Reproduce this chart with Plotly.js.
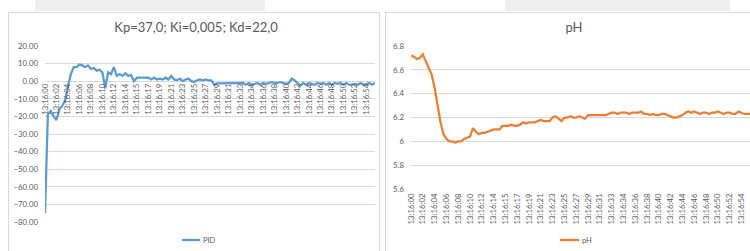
<!DOCTYPE html>
<html>
<head>
<meta charset="utf-8">
<script src="https://cdn.plot.ly/plotly-3.0.1.min.js"></script>
<style>
  html, body { margin: 0; padding: 0; background: #ffffff; }
  body { width: 750px; height: 251px; position: relative; overflow: hidden; }
  .tab { position: absolute; top: 0; height: 11px; background: #efefef; }
  .frame { position: absolute; top: 12px; height: 260px; border: 1px solid #d9d9d9; box-sizing: border-box; background: #ffffff; }
  .plot { position: absolute; top: 0; height: 251px; }
</style>
</head>
<body>
<div class="tab" style="left:35px;width:230px;"></div>
<div class="tab" style="left:505px;width:225px;"></div>
<div class="frame" style="left:8px;width:372px;"></div>
<div class="frame" style="left:385px;width:380px;"></div>
<div id="left" class="plot" style="left:0px;width:380px;"></div>
<div id="right" class="plot" style="left:380px;width:370px;"></div>
<script>
// Category tick labels (every 4th sample)
const timeLabels = ["13:16:00","13:16:02","13:16:04","13:16:06","13:16:08","13:16:10","13:16:12",
  "13:16:14","13:16:15","13:16:17","13:16:19","13:16:21","13:16:23","13:16:25","13:16:27",
  "13:16:29","13:16:31","13:16:33","13:16:34","13:16:36","13:16:38","13:16:40","13:16:42",
  "13:16:44","13:16:46","13:16:48","13:16:50","13:16:52","13:16:54"];
const labelStep = 4;

// PID output series
const pidValues = [-75,-19,-17,-20,-22,-16,-14,-11,-3,4,8,8,9.5,9,8,9,7,7.5,6,6.5,
  5,-4,5,4,8,3,4,3,4.5,3,3.5,0,2,2,2,2,2,1,2,1,
  1.5,1,2,1,3,1,0.5,1.5,0,1,1.5,0,-0.5,0.5,1,0.5,1,0.5,0.5,-2,
  -1.3,-1.3,-1.3,-1.3,-1.3,-1.3,-1.3,-1.3,-1.3,-1,-2,-1,-2,-1.5,-1,-2,-1,-1.5,-1,-0.5,
  -1,-1,-0.5,-1,-1.5,-1,1.5,0.5,-1,-2.5,-1,-2,-1,-1.5,-2,-1,-1.5,-1,-2,-1,
  -2,-1,-1.5,-1,-2,-1,-2,-2,-1.5,-2,-1,-2,-1.5,-1,-2,-1];

// pH series
const phValues = [6.72,6.71,6.69,6.70,6.73,6.67,6.61,6.56,6.45,6.30,6.16,6.06,6.02,6.00,6.00,5.99,6.00,6.00,6.02,6.03,
  6.04,6.11,6.08,6.06,6.07,6.07,6.08,6.09,6.10,6.10,6.10,6.13,6.13,6.13,6.14,6.13,6.13,6.14,6.16,6.15,
  6.16,6.16,6.16,6.17,6.18,6.17,6.17,6.17,6.20,6.21,6.19,6.17,6.20,6.20,6.21,6.20,6.20,6.21,6.20,6.19,
  6.22,6.22,6.22,6.22,6.22,6.22,6.22,6.23,6.24,6.24,6.23,6.24,6.24,6.24,6.23,6.24,6.24,6.24,6.25,6.23,
  6.23,6.22,6.23,6.22,6.22,6.23,6.23,6.22,6.21,6.20,6.20,6.21,6.22,6.24,6.25,6.24,6.25,6.24,6.23,6.24,
  6.24,6.23,6.24,6.24,6.25,6.24,6.23,6.24,6.24,6.23,6.23,6.25,6.24,6.23,6.23,6.23];

const pidTitle = "Kp=37,0; Ki=0,005; Kd=22,0";
const phTitle = "pH";
const pidName = "PID";
const phName = "pH";

const FONT = "Lato, 'Open Sans', sans-serif";
const TXT = "#595959";
const GRID = "#d9d9d9";
const tickvals = timeLabels.map((_, k) => k * labelStep);

function idx(arr) { return arr.map((_, i) => i); }

// ---------- Left chart ----------
const L = {w: 380, h: 251, l: 45, r: 5, t: 46, b: 29};
const Lpw = L.w - L.l - L.r, Lph = L.h - L.t - L.b;
const lpx = px => (px - L.l) / Lpw;
const lpy = py => (L.h - L.b - py) / Lph;

Plotly.newPlot("left", [{
  x: idx(pidValues), y: pidValues, type: "scatter", mode: "lines", name: pidName,
  line: {color: "#5b9bd5", width: 2.25}, showlegend: false
}], {
  width: L.w, height: L.h,
  margin: {l: L.l, r: L.r, t: L.t, b: L.b},
  paper_bgcolor: "rgba(0,0,0,0)", plot_bgcolor: "rgba(0,0,0,0)",
  font: {family: FONT, color: TXT, size: 7},
  title: {text: pidTitle, font: {family: FONT, size: 13, color: TXT},
          x: 196 / L.w, xanchor: "center", y: 1 - 27 / L.h, yanchor: "middle"},
  xaxis: {range: [0, pidValues.length - 1], tickmode: "array", tickvals: tickvals, ticktext: timeLabels,
          tickangle: -90, showgrid: false, zeroline: false, showline: false, ticks: "",
          anchor: "free", position: 0.8, tickfont: {size: 7.8, color: TXT}, fixedrange: true},
  yaxis: {range: [-80, 20], dtick: 10, tickformat: ".2f", gridcolor: GRID, gridwidth: 1,
          zeroline: false, showline: false, ticks: "", ticklabelstandoff: 6,
          tickfont: {size: 7.8, color: TXT}, fixedrange: true},
  shapes: [{type: "line", xref: "paper", yref: "paper",
            x0: lpx(182), x1: lpx(200), y0: lpy(240), y1: lpy(240),
            line: {color: "#5b9bd5", width: 2.25}}],
  annotations: [{xref: "paper", yref: "paper", x: lpx(201), y: lpy(240), text: pidName,
                 showarrow: false, xanchor: "left", yanchor: "middle", font: {size: 7.5, color: TXT}}]
}, {staticPlot: true});

// ---------- Right chart ----------
const R = {w: 370, h: 251, l: 31, r: 0, t: 46, b: 62};
const Rpw = R.w - R.l - R.r, Rph = R.h - R.t - R.b;
const rpx = px => (px - 380 - R.l) / Rpw;
const rpy = py => (R.h - R.b - py) / Rph;

Plotly.newPlot("right", [{
  x: idx(phValues), y: phValues, type: "scatter", mode: "lines", name: phName,
  line: {color: "#ed7d31", width: 2.25}, showlegend: false
}], {
  width: R.w, height: R.h,
  margin: {l: R.l, r: R.r, t: R.t, b: R.b},
  paper_bgcolor: "rgba(0,0,0,0)", plot_bgcolor: "rgba(0,0,0,0)",
  font: {family: FONT, color: TXT, size: 7},
  title: {text: phTitle, font: {family: FONT, size: 13, color: TXT},
          x: (574 - 380) / R.w, xanchor: "center", y: 1 - 27 / R.h, yanchor: "middle"},
  xaxis: {range: [0, 114.9], tickmode: "array", tickvals: tickvals, ticktext: timeLabels,
          tickangle: -90, showgrid: false, zeroline: false, showline: false, ticks: "",
          ticklabelstandoff: 2, tickfont: {size: 7.8, color: TXT}, fixedrange: true},
  yaxis: {range: [5.6, 6.8], dtick: 0.2, gridcolor: GRID, gridwidth: 1,
          zeroline: false, showline: false, ticks: "", ticklabelstandoff: 6,
          tickfont: {size: 7.8, color: TXT}, fixedrange: true},
  shapes: [{type: "line", xref: "paper", yref: "paper",
            x0: rpx(560), x1: rpx(579), y0: rpy(240), y1: rpy(240),
            line: {color: "#ed7d31", width: 2.25}}],
  annotations: [{xref: "paper", yref: "paper", x: rpx(580), y: rpy(240), text: phName,
                 showarrow: false, xanchor: "left", yanchor: "middle", font: {size: 7.5, color: TXT}}]
}, {staticPlot: true});
</script>
</body>
</html>
